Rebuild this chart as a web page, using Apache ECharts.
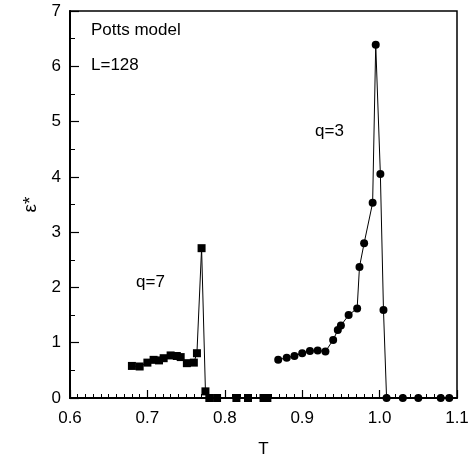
<!DOCTYPE html>
<html>
<head>
<meta charset="utf-8">
<script src="https://cdn.jsdelivr.net/npm/echarts@6/dist/echarts.min.js"></script>
<style>
  html, body { margin: 0; padding: 0; background: #fff; }
  #chart { width: 471px; height: 457px; }
</style>
</head>
<body>
<div id="chart"></div>
<script>
// Potts model, L=128: ε* versus temperature T for q=7 and q=3
const tQ7 = [0.680, 0.690, 0.700, 0.708, 0.715, 0.721, 0.730, 0.738, 0.743, 0.751, 0.760, 0.764, 0.770, 0.775, 0.780, 0.790, 0.815, 0.830, 0.850, 0.855];
const epsQ7 = [0.58, 0.57, 0.64, 0.69, 0.68, 0.72, 0.77, 0.76, 0.74, 0.63, 0.64, 0.81, 2.71, 0.12, 0, 0, 0, 0, 0, 0];

const tQ3 = [0.869, 0.880, 0.890, 0.900, 0.910, 0.920, 0.930, 0.940, 0.946, 0.950, 0.960, 0.971, 0.974, 0.980, 0.991, 0.995, 1.001, 1.005, 1.009, 1.030, 1.050, 1.079, 1.090];
const epsQ3 = [0.69, 0.73, 0.76, 0.81, 0.85, 0.86, 0.84, 1.05, 1.23, 1.31, 1.50, 1.62, 2.37, 2.80, 3.53, 6.39, 4.05, 1.59, 0, 0, 0, 0, 0];

const xTicks = ['0.6', '0.7', '0.8', '0.9', '1.0', '1.1'];
const yTicks = ['0', '1', '2', '3', '4', '5', '6', '7'];

const pairs = (xs, ys) => xs.map((x, i) => [x, ys[i]]);
const font = 'Liberation Sans, Arial, Helvetica, sans-serif';

const chart = echarts.init(document.getElementById('chart'), null, { renderer: 'canvas' });
chart.setOption({
  animation: false,
  backgroundColor: '#fff',
  grid: {
    left: 70, right: 14, top: 11, bottom: 59,
    outerBoundsMode: 'none', containLabel: false,
    show: true, borderColor: '#000', borderWidth: 1.5, backgroundColor: 'transparent'
  },
  xAxis: {
    type: 'value', min: 0.6, max: 1.1, interval: 0.1,
    name: 'T', nameLocation: 'middle', nameGap: 43,
    nameTextStyle: { color: '#000', fontSize: 17, fontFamily: font },
    axisLine: { lineStyle: { color: '#000', width: 2 } },
    axisTick: { inside: true, length: 8, lineStyle: { color: '#000', width: 1.2 } },
    minorTick: { show: true, splitNumber: 10, length: 4, lineStyle: { color: '#000', width: 1 } },
    splitLine: { show: false },
    axisLabel: {
      color: '#000', fontSize: 17, fontFamily: font, margin: 12,
      formatter: v => xTicks[Math.round((v - 0.6) / 0.1)]
    }
  },
  yAxis: {
    type: 'value', min: 0, max: 7, interval: 1,
    name: 'ε*', nameLocation: 'middle', nameGap: 29, nameRotate: 90,
    nameTextStyle: { color: '#000', fontSize: 19, fontFamily: font },
    axisLine: { lineStyle: { color: '#000', width: 2 } },
    axisTick: { inside: true, length: 9, lineStyle: { color: '#000', width: 1.2 } },
    minorTick: { show: true, splitNumber: 2, length: 5, lineStyle: { color: '#000', width: 1 } },
    splitLine: { show: false },
    axisLabel: {
      color: '#000', fontSize: 17, fontFamily: font, margin: 9,
      formatter: v => yTicks[Math.round(v)]
    }
  },
  graphic: [
    { type: 'text', left: 91, top: 22, style: { text: 'Potts model', fill: '#000', font: '17px ' + font } },
    { type: 'text', left: 91, top: 57, style: { text: 'L=128', fill: '#000', font: '17px ' + font } },
    { type: 'text', left: 315, top: 123, style: { text: 'q=3', fill: '#000', font: '17px ' + font } },
    { type: 'text', left: 136, top: 274, style: { text: 'q=7', fill: '#000', font: '17px ' + font } }
  ],
  series: [
    {
      name: 'q=7', type: 'line', data: pairs(tQ7, epsQ7),
      symbol: 'rect', symbolSize: 8,
      itemStyle: { color: '#000' },
      lineStyle: { color: '#000', width: 1 }
    },
    {
      name: 'q=3', type: 'line', data: pairs(tQ3, epsQ3),
      symbol: 'circle', symbolSize: 8,
      itemStyle: { color: '#000' },
      lineStyle: { color: '#000', width: 1 }
    }
  ]
});
</script>
</body>
</html>
